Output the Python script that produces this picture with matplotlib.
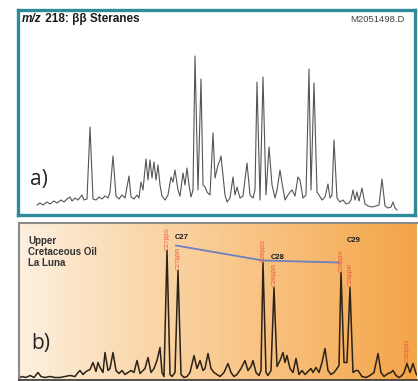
import numpy as np
import matplotlib.pyplot as plt
from matplotlib.colors import LinearSegmentedColormap

W, H = 418, 381  # output size, pixels

# m/z 218 trace, panel a)  (scan, abundance)
scan_a = [37, 40, 43, 47, 50, 54, 57, 61, 64, 67, 70, 72, 75, 78, 82, 84, 87, 90, 93, 96,
          99, 102, 105, 108, 110, 113, 116, 119, 122, 125, 129, 131, 134, 137, 139, 141, 143, 146, 148, 150,
          152, 154, 156, 158, 160, 162, 165, 168, 171, 173, 175, 178, 180, 183, 185, 187, 189, 191, 193, 195,
          198, 201, 203, 205, 207, 210, 213, 215, 218, 220, 221, 223, 225, 227, 230, 233, 235, 237, 240, 243,
          247, 250, 253, 255, 257, 260, 263, 266, 269, 272, 275, 277, 280, 282, 285, 288, 290, 292, 295, 298,
          300, 303, 306, 309, 311, 314, 317, 319, 322, 325, 328, 330, 332, 334, 337, 340, 343, 346, 349, 351,
          353, 355, 357, 359, 362, 365, 368, 372, 376, 379, 382, 385, 388, 391, 393, 395, 397]
abund_a = [10, 12, 10, 13, 11, 14, 12, 15, 13, 16, 18, 14, 17, 15, 20, 15, 16, 88, 16, 15,
           18, 16, 19, 17, 23, 59, 19, 16, 20, 17, 39, 18, 16, 20, 17, 33, 25, 56, 35, 55,
           37, 53, 35, 50, 30, 19, 15, 20, 38, 33, 45, 25, 19, 42, 30, 47, 30, 18, 25, 159,
           25, 136, 30, 28, 23, 20, 82, 37, 50, 55, 59, 40, 20, 13, 17, 38, 20, 28, 17, 19,
           52, 20, 17, 25, 133, 15, 138, 20, 68, 30, 17, 25, 45, 32, 15, 20, 23, 25, 19, 38,
           35, 17, 20, 146, 25, 132, 23, 20, 15, 18, 31, 17, 20, 75, 17, 13, 15, 11, 12, 15,
           25, 15, 23, 14, 27, 11, 9, 8, 9, 10, 36, 9, 7, 8, 13, 7, 5]

# panel b) Upper Cretaceous oil, La Luna
scan_b = [18, 22, 26, 30, 34, 38, 41, 45, 50, 55, 60, 65, 70, 75, 78, 80, 83, 86, 90, 93,
          96, 98, 100, 103, 105, 108, 110, 113, 116, 119, 122, 125, 128, 131, 134, 137, 140, 143, 145, 148,
          151, 154, 157, 160, 162, 164, 167, 170, 172, 175, 178, 181, 184, 187, 190, 194, 197, 200, 203, 205,
          208, 211, 214, 217, 220, 224, 228, 231, 234, 237, 241, 245, 248, 251, 253, 256, 259, 261, 263, 266,
          268, 271, 274, 277, 280, 283, 285, 287, 290, 293, 296, 299, 302, 305, 308, 311, 313, 316, 319, 322,
          325, 328, 331, 334, 337, 339, 341, 344, 347, 350, 353, 356, 358, 362, 366, 370, 374, 378, 381, 384,
          388, 391, 393, 396, 399, 402, 404, 407, 410, 413, 416, 418]
abund_b = [1, 3, 2, 4, 2, 7, 3, 2, 3, 2, 2, 3, 4, 3, 7, 9, 5, 8, 10, 17,
           8, 17, 12, 7, 27, 9, 11, 27, 9, 6, 9, 5, 7, 9, 7, 19, 6, 9, 11, 22,
           7, 11, 19, 32, 7, 3, 129, 5, 3, 7, 109, 5, 2, 3, 7, 24, 11, 19, 9, 11,
           26, 11, 7, 5, 3, 7, 16, 7, 3, 5, 11, 19, 9, 13, 19, 7, 4, 9, 117, 7,
           4, 9, 92, 13, 19, 27, 17, 24, 11, 7, 21, 5, 9, 5, 8, 11, 7, 12, 7, 17,
           31, 9, 5, 7, 11, 14, 107, 17, 17, 92, 7, 9, 9, 3, 2, 4, 7, 26, 7, 3,
           6, 7, 9, 4, 2, 4, 7, 16, 7, 16, 6, 3]

# named sterane peaks in panel b)
peak_scan = [167, 178, 263, 274, 341, 350, 407]
peak_abund = [129, 109, 117, 92, 107, 92, 16]
peak_names = ['C27ββS', 'C27ββR', 'C28ββS', 'C28ββR', 'C29ββS', 'C29ββR', 'C30ββR']

# C27-C28-C29 trend line
trend_scan = [176, 263, 339]
trend_abund = [134, 119, 117]
carbon_labels = ['C27', 'C28', 'C29']
carbon_pos = [(175, 142), (271, 122), (347, 139)]

plt.rcParams['font.family'] = ['Liberation Sans', 'DejaVu Sans']
fig = plt.figure(figsize=(W / 100, H / 100), dpi=100)
fig.patch.set_facecolor('white')

def place(x0, y0, x1, y1):
    # pixel box -> figure fraction
    return [x0 / W, 1 - y1 / H, (x1 - x0) / W, (y1 - y0) / H]

# ---- panel a
ax1 = fig.add_axes(place(17.5, 9.5, 414.5, 215))
ax1.plot(scan_a, abund_a, color='#555555', lw=0.8)
ax1.set_xlim(17.5, 414.5)
ax1.set_ylim(0, 205.5)
ax1.set_xticks([])
ax1.set_yticks([])
for s in ax1.spines.values():
    s.set_color('#2f8a9c')
    s.set_linewidth(2.4)
t1 = ax1.text(0.012, 0.985, 'm/z', transform=ax1.transAxes, ha='left', va='top',
              fontsize=8.5, fontweight='bold', fontstyle='italic', color='#1a1a1a')
ax1.annotate(' 218: ββ Steranes', xy=(1, 0), xycoords=t1, ha='left', va='bottom',
             fontsize=8.5, fontweight='bold', color='#1a1a1a')
ax1.text(0.975, 0.975, 'M2051498.D', transform=ax1.transAxes, ha='right', va='top',
         fontsize=6.8, color='#444444')
ax1.text(0.032, 0.12, 'a)', transform=ax1.transAxes, ha='left', va='bottom',
         fontsize=15, family=['Open Sans', 'DejaVu Sans'], color='#222222')

# ---- panel b
ax2 = fig.add_axes(place(19, 222.5, 417, 379.5))
grad = LinearSegmentedColormap.from_list('oil', ['#fdf0e0', '#fad6a8', '#f8bf7a', '#f4a446'])
ax2.imshow(np.linspace(0, 1, 256)[None, :], aspect='auto', cmap=grad,
           extent=[19, 417, 0, 157], zorder=0)
ax2.plot(scan_b, abund_b, color='#2b2218', lw=1.1, zorder=2)
ax2.plot(trend_scan, trend_abund, color='#6f7fbf', lw=1.3, zorder=3)
for (cx, cy), lab in zip(carbon_pos, carbon_labels):
    ax2.text(cx, cy, lab, fontsize=5.5, fontweight='bold', color='#1a1a1a',
             ha='left', va='center', zorder=4)
for px, pa, nm in zip(peak_scan, peak_abund, peak_names):
    ax2.text(px, pa + 1, nm, rotation=90, fontsize=4.5, color='#e8553a',
             ha='center', va='bottom', zorder=4)
ax2.text(28, 144, 'Upper\nCretaceous Oil\nLa Luna', fontsize=7, fontweight='bold',
         color='#333333', ha='left', va='top', linespacing=1.15, zorder=4)
ax2.text(31, 26, 'b)', fontsize=15, family=['Open Sans', 'DejaVu Sans'],
         color='#222222', ha='left', va='bottom', zorder=4)
ax2.set_xlim(19, 417)
ax2.set_ylim(0, 157)
ax2.set_xticks([])
ax2.set_yticks([])
ax2.spines['right'].set_visible(False)
ax2.spines['left'].set_color('#8a8a8a')
ax2.spines['top'].set_color('#8a8a8a')
ax2.spines['left'].set_linewidth(1.5)
ax2.spines['top'].set_linewidth(1.5)
ax2.spines['bottom'].set_color('#333333')
ax2.spines['bottom'].set_linewidth(1.2)

fig.savefig('out.png', dpi=100)
